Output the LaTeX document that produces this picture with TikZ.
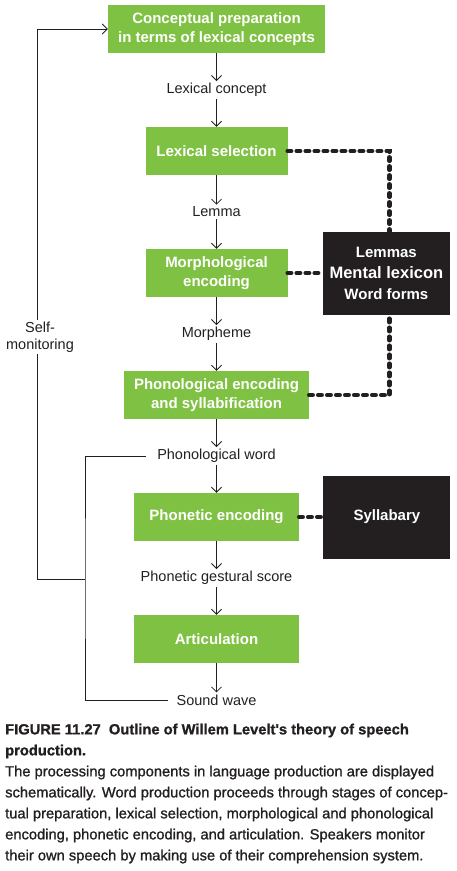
\documentclass[tikz,border=0pt]{standalone}
\usepackage{fontspec}
\setmainfont{Liberation Sans}
\newfontfamily\capfont[FakeBold=1.1]{Liberation Sans}
\usepackage{tikz}
\usetikzlibrary{positioning, arrows.meta}
\definecolor{levgreen}{HTML}{7FC142}
\definecolor{levblack}{HTML}{231F20}
\tikzstyle{gblock} = [rectangle, fill=levgreen, text=white, align=center,
font=\fontsize{15}{19}\selectfont\bfseries, inner sep=0pt, minimum height=48pt]
\tikzstyle{kblock} = [rectangle, fill=levblack, text=white, align=center,
font=\fontsize{15}{21}\selectfont\bfseries, inner sep=0pt, minimum width=127pt, minimum height=83pt]
\tikzstyle{lbl} = [text=levblack, font=\fontsize{14.5}{17}\selectfont, inner sep=2pt]
\tikzstyle{arrow} = [line width=0.8pt, draw=levblack, -{Straight Barb[length=5pt,width=10pt]}]
\tikzstyle{fbline} = [line width=0.8pt, draw=levblack]
\tikzstyle{link} = [line width=4.5pt, draw=levblack, line cap=round, dash pattern=on 3.5pt off 5.5pt]

\begin{document}
\begin{tikzpicture}[node distance=61pt, x=1pt, y=1pt]
        \useasboundingbox (0,0) rectangle (456,-871);
        \node (Concept) [gblock, minimum width=217pt] at (216.5,-29) {Conceptual preparation\\in terms of lexical concepts};
        \node (LexConcept) [lbl, below of=Concept] {Lexical concept};
        \node (LexSel) [gblock, minimum width=142pt, below of=LexConcept] {Lexical selection};
        \node (Lemma) [lbl, below of=LexSel] {Lemma};
        \node (Morph) [gblock, minimum width=142pt, below of=Lemma] {Morphological\\encoding};
        \node (Morpheme) [lbl, below of=Morph] {Morpheme};
        \node (Phon) [gblock, minimum width=185pt, below of=Morpheme] {Phonological encoding\\and syllabification};
        \node (PhonWord) [lbl, below of=Phon] {Phonological word};
        \node (PhonEnc) [gblock, minimum width=165pt, below of=PhonWord] {Phonetic encoding};
        \node (Gestural) [lbl, below of=PhonEnc] {Phonetic gestural score};
        \node (Artic) [gblock, minimum width=165pt, below of=Gestural] {Articulation};
        \node (SoundWave) [lbl, below of=Artic] {Sound wave};

        \node (Lexicon) [kblock, right=35pt of Morph] {Lemmas\\{\fontsize{16.5}{21}\selectfont Mental lexicon}\\Word forms};
        \node (Syllabary) [kblock, right=24pt of PhonEnc] {Syllabary};

        \draw [arrow] (Concept) -- (LexConcept);
        \draw [arrow] (LexConcept) -- (LexSel);
        \draw [arrow] (LexSel) -- (Lemma);
        \draw [arrow] (Lemma) -- (Morph);
        \draw [arrow] (Morph) -- (Morpheme);
        \draw [arrow] (Morpheme) -- (Phon);
        \draw [arrow] (Phon) -- (PhonWord);
        \draw [arrow] (PhonWord) -- (PhonEnc);
        \draw [arrow] (PhonEnc) -- (Gestural);
        \draw [arrow] (Gestural) -- (Artic);
        \draw [arrow] (Artic) -- (SoundWave);

        \draw [link] (LexSel.east) -| ([xshift=3pt]Lexicon.north);
        \draw [link] (Morph.east) -- (Lexicon.west);
        \draw [link] (Phon.east) -| ([xshift=3pt]Lexicon.south);
        \draw [link] (PhonEnc.east) -- (Syllabary.west);

        \coordinate (Fb) at (37,-579);
        \coordinate (Brk) at (85,-579);
        \draw [arrow] (Fb) |- node[lbl, pos=0.22, xshift=3pt, fill=white, align=center] (SelfMon) {Self-\\monitoring} (Concept.west);
        \draw [fbline, shorten <=9pt, shorten >=6pt] (PhonWord.west) -| (Brk) |- (SoundWave.west);
        \draw [fbline] (Fb) -- (Brk);

        \node (Caption) [anchor=north west, inner sep=0pt, align=left, text=levblack,
        font=\capfont\fontsize{14.7}{21}\selectfont] at (5,-723.5) {\textbf{FIGURE 11.27\ \ Outline of Willem Levelt's theory of speech}\\
        \textbf{production.}\\
        The processing components in language production are displayed\\
        schematically. Word production proceeds through stages of concep-\\
        tual preparation, lexical selection, morphological and phonological\\
        encoding, phonetic encoding, and articulation. Speakers monitor\\
        their own speech by making use of their comprehension system.};
\end{tikzpicture}
\end{document}
